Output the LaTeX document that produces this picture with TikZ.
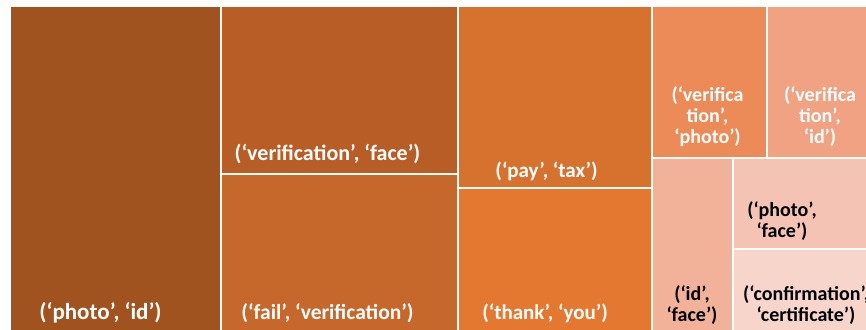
\documentclass[tikz,border=0pt]{standalone}
\usepackage{fontspec}
\setmainfont{Carlito}
\begin{document}
\begin{tikzpicture}[x=1pt,y=-1pt,
  tile/.style={draw=white,line width=2pt,inner sep=0pt,outer sep=0pt,anchor=north west},
  lbl/.style={font=\bfseries\fontsize{#1}{21}\selectfont,align=center,inner sep=0pt},
  wlbl/.style={lbl=#1,text=white},
  blbl/.style={lbl=#1,text=black}]
\definecolor{c1}{HTML}{A0531E}
\definecolor{c2}{HTML}{B85D25}
\definecolor{c3}{HTML}{C6672B}
\definecolor{c4}{HTML}{D7722E}
\definecolor{c5}{HTML}{E57831}
\definecolor{c6}{HTML}{EC8B57}
\definecolor{c7}{HTML}{F0A282}
\definecolor{c8}{HTML}{F2B29A}
\definecolor{c9}{HTML}{F5C3B3}
\definecolor{c10}{HTML}{F7D5CA}
\useasboundingbox (0,0) rectangle (866,329);
\clip (0,0) rectangle (866,329);
\node[tile,fill=c1,minimum width=211pt,minimum height=325pt] (t1) at (10,6) {};
\node[tile,fill=c2,minimum width=237pt,minimum height=168pt] (t2) at (221,6) {};
\node[tile,fill=c3,minimum width=237pt,minimum height=157pt] (t3) at (221,174) {};
\node[tile,fill=c4,minimum width=194pt,minimum height=182pt] (t4) at (458,6) {};
\node[tile,fill=c5,minimum width=194pt,minimum height=143pt] (t5) at (458,188) {};
\node[tile,fill=c6,minimum width=115pt,minimum height=152pt] (t6) at (652,6) {};
\node[tile,fill=c7,minimum width=101pt,minimum height=152pt] (t7) at (767,6) {};
\node[tile,fill=c8,minimum width=81pt,minimum height=173pt] (t8) at (652,158) {};
\node[tile,fill=c9,minimum width=135pt,minimum height=91pt] (t9) at (733,158) {};
\node[tile,fill=c10,minimum width=135pt,minimum height=82pt] (t10) at (733,249) {};
\node[wlbl=23] (l1) at (100.5,313) {(‘photo’, ‘id’)};
\node[wlbl=22] (l2) at (327.5,154) {(‘verification’, ‘face’)};
\node[wlbl=21.5] (l3) at (327.5,313) {(‘fail’, ‘verification’)};
\node[wlbl=21] (l4) at (546.5,171) {(‘pay’, ‘tax’)};
\node[wlbl=21] (l5) at (545,313) {(‘thank’, ‘you’)};
\node[wlbl=20] (l6) at (707.5,117) {(‘verifica\\tion’,\\‘photo’)};
\node[wlbl=20] (l7) at (820,117) {(‘verifica\\tion’,\\‘id’)};
\node[blbl=20] (l8) at (692,305) {(‘id’,\\‘face’)};
\node[blbl=20] (l9) at (782,221) {(‘photo’,\\‘face’)};
\node[blbl=20] (l10) at (806,305) {(‘confirmation’,\\‘certificate’)};
\end{tikzpicture}
\end{document}
